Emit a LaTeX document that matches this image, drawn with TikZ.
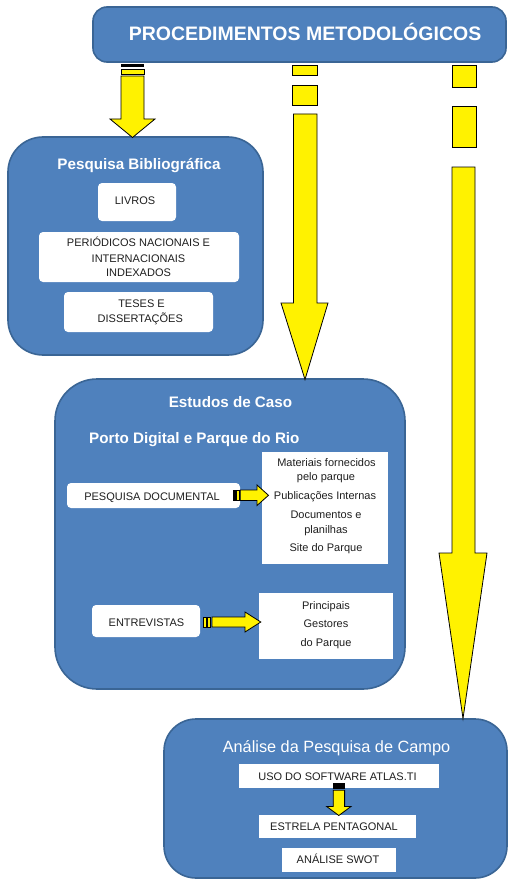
\documentclass[tikz,border=0pt]{standalone}
\usepackage{fontspec}
\setmainfont{Liberation Sans}
\definecolor{boxblue}{HTML}{4F81BD}
\definecolor{boxedge}{HTML}{3A6595}
\begin{document}
\begin{tikzpicture}[x=1pt,y=-1pt,
  bluebox/.style={draw=boxedge, line width=1.6pt, fill=boxblue, rounded corners=#1, inner sep=0pt},
  whitebox/.style={fill=white, draw=none, inner sep=0pt, rounded corners=#1},
  whitebox/.default=0pt,
  headtxt/.style={text=white, font=\bfseries\fontsize{19.5}{22}\selectfont, anchor=base, inner sep=0pt},
  titletxt/.style={text=white, font=\bfseries\fontsize{15.2}{18}\selectfont, anchor=base, inner sep=0pt},
  itemtxt/.style={text=black!88, font=\fontsize{11}{13}\selectfont, anchor=base, inner sep=0pt},
  yarrow/.style={fill=yellow, draw=black, line width=0.8pt, line join=miter},
  stripe/.style={fill=black, draw=black, line width=0.5pt}
]
% canvas
\path[use as bounding box] (0,0) rectangle (509,880);
\fill[white] (0,0) rectangle (509,880);

% ---------- header ----------
\node[bluebox=14pt, minimum width=413pt, minimum height=55pt] (head) at (299.5,34.5) {};
\node[headtxt] (headt) at (305,40.7) {PROCEDIMENTOS METODOLÓGICOS};

% ---------- Pesquisa Bibliografica ----------
\node[bluebox=35pt, minimum width=255pt, minimum height=218pt] (bib) at (135.5,246) {};
\node[titletxt] (bibt) at (139,169.3) {Pesquisa Bibliográfica};
\node[whitebox=4pt, minimum width=78pt, minimum height=38pt] (livros) at (137,202) {};
\node[itemtxt] (livrost) at (135,204.5) {LIVROS};
\node[whitebox=4pt, minimum width=200pt, minimum height=50pt] (peri) at (139,257) {};
\node[itemtxt] (peri1) at (138.5,246.7) {PERIÓDICOS NACIONAIS E};
\node[itemtxt] (peri2) at (138.5,262.3) {INTERNACIONAIS};
\node[itemtxt] (peri3) at (138.5,276.5) {INDEXADOS};
\node[whitebox=4pt, minimum width=149pt, minimum height=40pt] (teses) at (138.5,312) {};
\node[itemtxt] (teses1) at (141.5,307.3) {TESES E};
\node[itemtxt] (teses2) at (140.3,322.3) {DISSERTAÇÕES};

% ---------- Estudos de Caso ----------
\node[bluebox=42pt, minimum width=350pt, minimum height=310pt] (caso) at (230,534) {};
\node[titletxt] (casot) at (230.5,407.7) {Estudos de Caso};
\node[titletxt, anchor=base west] (portot) at (89,443.3) {Porto Digital e Parque do Rio};

\node[whitebox=4pt, minimum width=173pt, minimum height=25pt] (doc) at (153.5,495.5) {};
\node[itemtxt] (doct) at (152,500) {PESQUISA DOCUMENTAL};
\node[whitebox, minimum width=126pt, minimum height=112pt] (mat) at (325,508) {};
\node[itemtxt] (mat1) at (326.5,466.7) {Materiais fornecidos};
\node[itemtxt] (mat2) at (326,480) {pelo parque};
\node[itemtxt] (mat3) at (325,499.3) {Publicações Internas};
\node[itemtxt] (mat4) at (326,518.3) {Documentos e};
\node[itemtxt] (mat5) at (326,533.3) {planilhas};
\node[itemtxt] (mat6) at (326,551.7) {Site do Parque};

\node[whitebox=4pt, minimum width=108pt, minimum height=32pt] (entr) at (146,621) {};
\node[itemtxt] (entrt) at (146.5,626) {ENTREVISTAS};
\node[whitebox, minimum width=134pt, minimum height=66pt] (gest) at (326,626) {};
\node[itemtxt] (gest1) at (326,609) {Principais};
\node[itemtxt] (gest2) at (326,627.3) {Gestores};
\node[itemtxt] (gest3) at (326,646.7) {do Parque};

% ---------- Analise da Pesquisa de Campo ----------
\node[bluebox=32pt, minimum width=343pt, minimum height=159pt] (campo) at (335.5,798.5) {};
\node[text=white, font=\fontsize{16.3}{19}\selectfont, anchor=base] (campot) at (336.5,752.3) {Análise da Pesquisa de Campo};
\node[whitebox, minimum width=200pt, minimum height=24pt] (atlas) at (339,776) {};
\node[itemtxt] (atlast) at (337.5,780.7) {USO DO SOFTWARE ATLAS.TI};
\node[whitebox, minimum width=157pt, minimum height=23pt] (estrela) at (337.5,826.5) {};
\node[itemtxt] (estrelat) at (334,830.7) {ESTRELA PENTAGONAL};
\node[whitebox, minimum width=114pt, minimum height=24pt] (swot) at (339,860) {};
\node[itemtxt] (swott) at (338,863.7) {ANÁLISE SWOT};

% ---------- block arrows ----------
% header -> Pesquisa Bibliografica
\fill[black] (121,64.5) rectangle (144,67.3);
\draw[yarrow] (121,69.3) rectangle (144,74);
\draw[yarrow] (121,76) -- (144,76) -- (144,119) -- (155,119) -- (132.5,137.5)
  -- (110,119) -- (121,119) -- cycle;

% header -> Estudos de Caso
\draw[yarrow] (292.5,65) rectangle (317,75.5);
\draw[yarrow] (292.5,85) rectangle (317,105);
\draw[yarrow] (293.5,114) -- (317,114) -- (317,303) -- (328,303) -- (305,379.5)
  -- (281,303) -- (293.5,303) -- cycle;

% header -> Analise da Pesquisa de Campo
\draw[yarrow] (452,65) rectangle (476,87);
\draw[yarrow] (452,106) rectangle (476,147);
\draw[yarrow] (452,167) -- (475,167) -- (475,553) -- (487,553) -- (463,718.5)
  -- (439,553) -- (452,553) -- cycle;

% Pesquisa documental -> materiais
\fill[black] (233.2,490) rectangle (235.6,500.5);
\draw[yarrow] (236.6,490) rectangle (239,500.5);
\draw[yarrow] (240.3,490) -- (257,490) -- (257,485) -- (268.5,495.3) -- (257,505.5)
  -- (257,500.5) -- (240.3,500.5) -- cycle;

% Entrevistas -> gestores
\draw[yarrow] (203.6,617) rectangle (206.4,627);
\draw[yarrow] (207.8,617) rectangle (210.6,627);
\draw[yarrow] (212,617) -- (245,617) -- (245,612) -- (260.8,622) -- (245,632)
  -- (245,627) -- (212,627) -- cycle;

% Atlas.ti -> estrela pentagonal
\fill[black] (333.3,783) rectangle (344.6,789.2);
\draw[yarrow] (333.3,790.2) -- (344.6,790.2) -- (344.6,806.5) -- (351,806.5)
  -- (338.8,815.5) -- (326.7,806.5) -- (333.3,806.5) -- cycle;
\end{tikzpicture}
\end{document}
